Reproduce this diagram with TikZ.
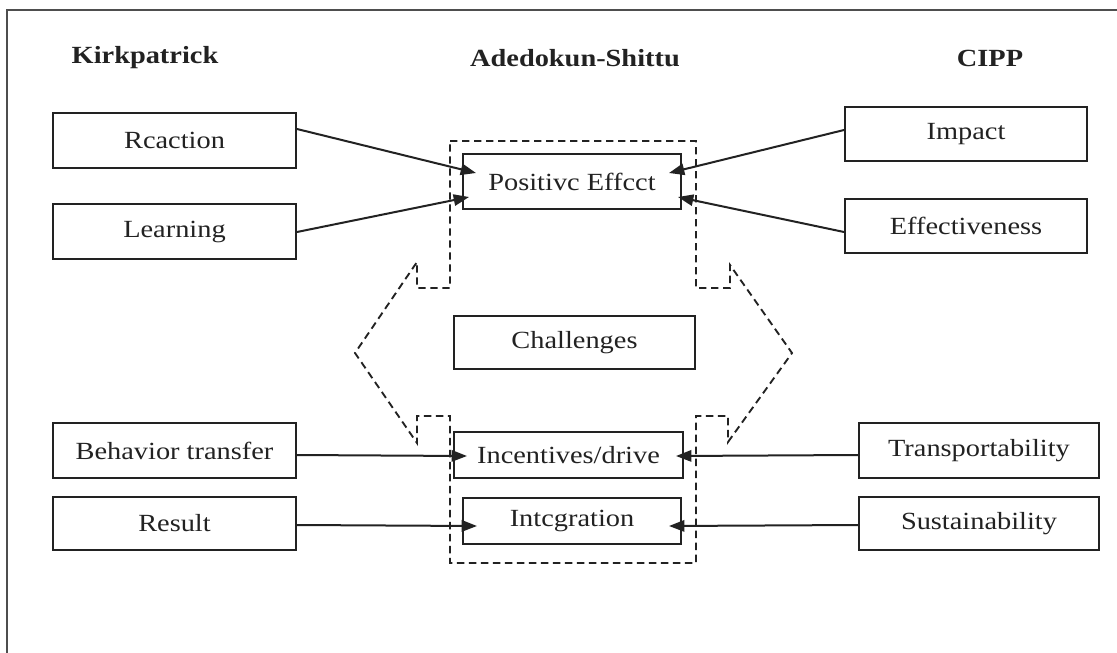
\documentclass[tikz,border=0pt]{standalone}
\usepackage{fontspec}
\setmainfont{Liberation Serif}[FakeStretch=1.15]
\usetikzlibrary{calc,arrows.meta}
\definecolor{ink}{HTML}{222222}
\newcommand{\bx}[6]{\node[box, minimum width={(#4-#2)*0.75pt}, minimum height={(#5-#3)*0.75pt}] (#1) at ({(#2+#4)/2},{(#3+#5)/2}) {#6};}
\begin{document}
\begin{tikzpicture}[x=0.75pt,y=-0.75pt,
  box/.style={draw=ink, line width=1.5pt, fill=white, inner sep=0pt, font=\fontsize{18.5}{21}\selectfont, text=ink},
  head/.style={font=\fontsize{18.5}{21}\selectfont\bfseries, text=ink},
  conn/.style={draw=ink, line width=1.5pt, -{Triangle[length=11.5pt,width=8.5pt]}},
  dashline/.style={draw=ink, line width=1.4pt, dash pattern=on 5.5pt off 3.5pt},
  frameline/.style={draw=ink!80, line width=1.5pt}]
\useasboundingbox (0,0) rectangle (1117,653);
\fill[white] (0,0) rectangle (1117,653);
% frame (top and left edges)
\draw[frameline] (7,653) -- (7,10) -- (1117,10);
% headers
\node[head] (hk) at (145,58) {Kirkpatrick};
\node[head] (ha) at (575,58) {Adedokun-Shittu};
\node[head] (hc) at (990,58) {CIPP};
% dashed contour
\draw[dashline] (450,141) -- (696,141) -- (696,288) -- (730,288) -- (730,265) -- (792,353) -- (728,442) -- (728,416) -- (696,416) -- (696,563) -- (450,563) -- (450,416) -- (417,416) -- (417,443) -- (355,353) -- (417,262) -- (417,288) -- (450,288) -- cycle;
% boxes
\bx{reaction}{53}{113}{296}{168}{Rcaction}
\bx{learning}{53}{204}{296}{259}{Learning}
\bx{impact}{845}{107}{1087}{161}{Impact}
\bx{effect}{845}{199}{1087}{253}{Effectiveness}
\bx{behavior}{53}{423}{296}{478}{Behavior transfer}
\bx{result}{53}{497}{296}{550}{Result}
\bx{transport}{859}{423}{1099}{478}{Transportability}
\bx{sustain}{859}{497}{1099}{550}{Sustainability}
\bx{positive}{463}{154}{681}{209}{Positivc Effcct}
\bx{challenges}{454}{316}{695}{369}{Challenges}
\bx{incentives}{454}{432}{683}{478}{Incentives/drive}
\bx{integration}{463}{498}{681}{544}{Intcgration}
% connectors
\draw[conn] ($(reaction.east)+(0,-11.5)$) -- ($(positive.west)+(14,-8.5)$);
\draw[conn] ($(learning.east)+(0,0.5)$) -- ($(positive.west)+(7,15.5)$);
\draw[conn] ($(impact.west)+(0,-4)$) -- ($(positive.east)+(-13,-8.5)$);
\draw[conn] ($(effect.west)+(0,6)$) -- ($(positive.east)+(-4,15.5)$);
\draw[conn] ($(behavior.east)+(0,4.5)$) -- ($(incentives.west)+(14,1)$);
\draw[conn] ($(result.east)+(0,1.5)$) -- ($(integration.west)+(15,5)$);
\draw[conn] ($(transport.west)+(0,4.5)$) -- ($(incentives.east)+(-8,1)$);
\draw[conn] ($(sustain.west)+(0,1.5)$) -- ($(integration.east)+(-13,5)$);
\end{tikzpicture}
\end{document}
